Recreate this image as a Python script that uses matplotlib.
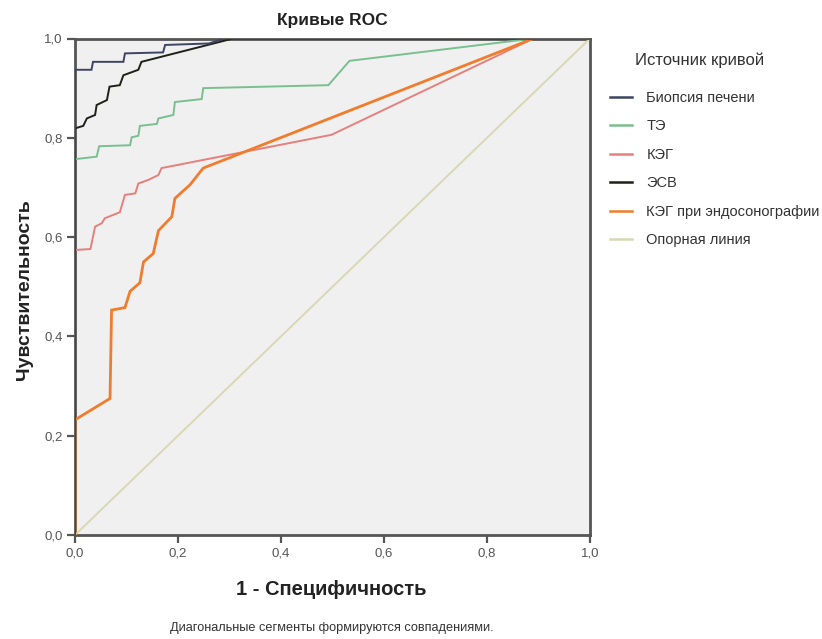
import matplotlib
matplotlib.use("Agg")
import matplotlib.pyplot as plt
from matplotlib.lines import Line2D

plt.rcParams['font.family'] = ['Liberation Sans', 'DejaVu Sans']

# ---- data (1 - specificity, sensitivity) ----
biopsy_x = [0.0, 0.0, 0.032, 0.035, 0.094, 0.097, 0.171, 0.175, 0.26, 0.29, 1.0]
biopsy_y = [0.0, 0.937, 0.937, 0.953, 0.953, 0.970, 0.972, 0.987, 0.99, 1.0, 1.0]

te_x = [0.0, 0.0, 0.042, 0.047, 0.107, 0.110, 0.123, 0.126, 0.159, 0.162, 0.191, 0.194, 0.246, 0.249, 0.492, 0.533, 0.89, 1.0]
te_y = [0.0, 0.757, 0.762, 0.783, 0.785, 0.801, 0.804, 0.824, 0.828, 0.839, 0.846, 0.872, 0.878, 0.900, 0.906, 0.955, 1.0, 1.0]

keg_x = [0.0, 0.0, 0.030, 0.039, 0.052, 0.058, 0.087, 0.097, 0.117, 0.123, 0.142, 0.162, 0.168, 0.498, 0.89, 1.0]
keg_y = [0.0, 0.574, 0.576, 0.621, 0.628, 0.638, 0.650, 0.685, 0.688, 0.708, 0.715, 0.725, 0.739, 0.806, 1.0, 1.0]

esv_x = [0.0, 0.0, 0.016, 0.023, 0.039, 0.042, 0.062, 0.067, 0.087, 0.094, 0.123, 0.129, 0.307, 1.0]
esv_y = [0.0, 0.819, 0.824, 0.839, 0.846, 0.866, 0.876, 0.903, 0.906, 0.926, 0.937, 0.953, 1.0, 1.0]

kege_x = [0.0, 0.0, 0.068, 0.071, 0.097, 0.107, 0.126, 0.133, 0.152, 0.162, 0.188, 0.194, 0.223, 0.249, 0.89, 1.0]
kege_y = [0.0, 0.232, 0.275, 0.453, 0.458, 0.491, 0.508, 0.550, 0.567, 0.613, 0.641, 0.678, 0.705, 0.739, 1.0, 1.0]

ref_x = [0.0, 1.0]
ref_y = [0.0, 1.0]

labels = ["Биопсия печени", "ТЭ", "КЭГ", "ЭСВ", "КЭГ при эндосонографии", "Опорная линия"]
colors = ["#3d4563", "#79c08f", "#e5807c", "#1e2118", "#f07c2c", "#d9d8b6"]
widths = [1.4, 1.4, 1.4, 1.4, 2.0, 1.4]

series = [(biopsy_x, biopsy_y), (te_x, te_y), (keg_x, keg_y), (esv_x, esv_y), (kege_x, kege_y), (ref_x, ref_y)]

W, H = 822, 639
fig = plt.figure(figsize=(W / 100, H / 100), dpi=100)
fig.patch.set_facecolor("white")
ax = fig.add_axes([75 / W, (H - 535) / H, (590 - 75) / W, (535 - 38.5) / H])
ax.set_facecolor("#f0f0f0")

draw_order = [5, 2, 1, 4, 3, 0]
for i in draw_order:
    x, y = series[i]
    ax.plot(x, y, color=colors[i], lw=widths[i], solid_joinstyle="miter", zorder=3 + (i == 0))

ax.set_xlim(0, 1)
ax.set_ylim(0, 1)
ticks = [0.0, 0.2, 0.4, 0.6, 0.8, 1.0]
tick_labels = ["0,0", "0,2", "0,4", "0,6", "0,8", "1,0"]
ax.set_xticks(ticks)
ax.set_xticklabels(tick_labels)
ax.set_yticks(ticks)
ax.set_yticklabels(tick_labels)
ax.tick_params(direction="out", length=6, width=1.6, color="#555555", labelcolor="#555555", labelsize=9.5, pad=3)
for s in ax.spines.values():
    s.set_color("#555555")
    s.set_linewidth(2)

ax.set_xlabel("1 - Специфичность", fontsize=14.5, fontweight="bold", color="#222222")
ax.xaxis.set_label_coords(0.497, -0.09)
ax.set_ylabel("Чувствительность", fontsize=14, fontweight="bold", color="#222222")
ax.yaxis.set_label_coords(-0.082, 0.495)
ax.set_title("Кривые ROC", fontsize=12.5, fontweight="bold", color="#222222", pad=10)

fig.text(332 / W, 1 - 628 / H, "Диагональные сегменты формируются совпадениями.",
         ha="center", va="center", fontsize=9.2, color="#333333")

fig.text(700 / W, 1 - 60 / H, "Источник кривой", ha="center", va="center",
         fontsize=12, color="#333333")

handles = [Line2D([], [], color=c, lw=1.8) for c in colors]
leg = fig.legend(handles, labels, loc="upper left",
                 bbox_to_anchor=(610 / W, 1 - 91 / H), frameon=False, fontsize=10.5,
                 handlelength=1.5, handletextpad=1.0, labelspacing=0.99,
                 borderpad=0, borderaxespad=0)
for t in leg.get_texts():
    t.set_color("#333333")

fig.savefig("out.png", dpi=100)
